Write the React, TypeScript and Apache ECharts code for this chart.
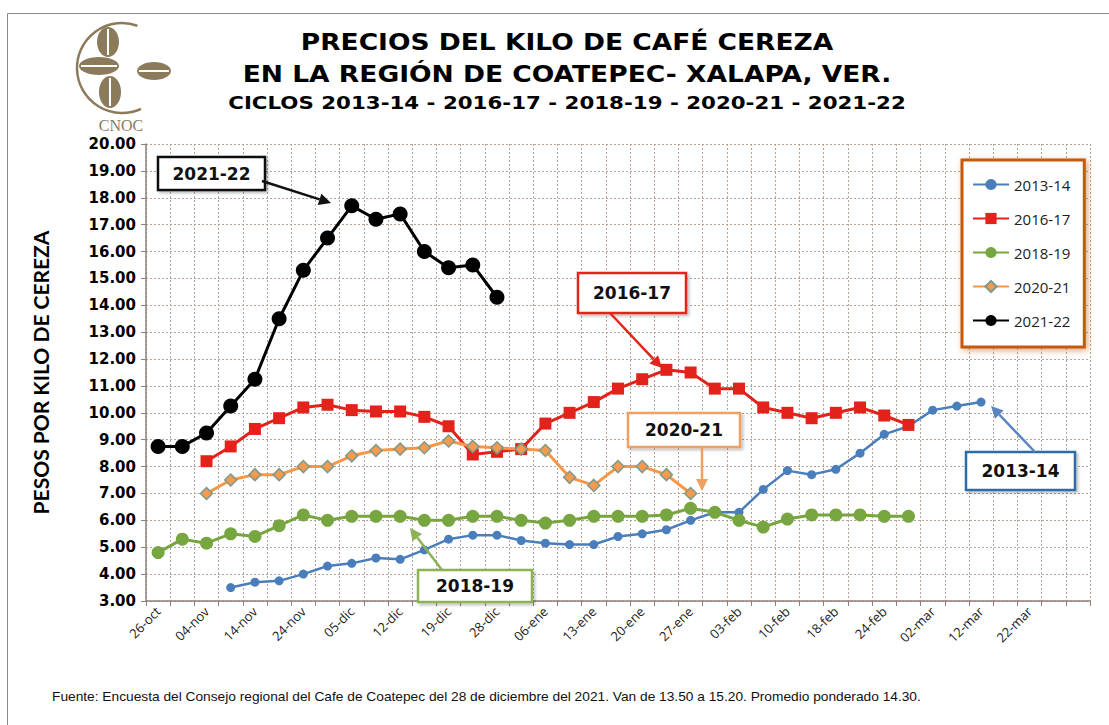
import React, { useEffect, useRef } from 'react';
import * as echarts from 'echarts';

// ---- data ----
const TICK_LABELS = ['26-oct', '04-nov', '14-nov', '24-nov', '05-dic', '12-dic', '19-dic', '28-dic', '06-ene', '13-ene', '20-ene', '27-ene', '03-feb', '10-feb', '18-feb', '24-feb', '02-mar', '12-mar', '22-mar'];
const SERIES_NAMES = ['2013-14', '2016-17', '2018-19', '2020-21', '2021-22'];

const V2013_14 = [null, null, null, 3.5, 3.7, 3.75, 4.0, 4.3, 4.4, 4.6, 4.55, 4.9, 5.3, 5.45, 5.45, 5.25, 5.15, 5.1, 5.1, 5.4, 5.5, 5.65, 6.0, 6.3, 6.3, 7.15, 7.85, 7.7, 7.9, 8.5, 9.2, 9.5, 10.1, 10.25, 10.4];
const V2016_17 = [null, null, 8.2, 8.75, 9.4, 9.8, 10.2, 10.3, 10.1, 10.05, 10.05, 9.85, 9.5, 8.45, 8.55, 8.65, 9.6, 10.0, 10.4, 10.9, 11.25, 11.6, 11.5, 10.9, 10.9, 10.2, 10.0, 9.8, 10.0, 10.2, 9.9, 9.55];
const V2018_19 = [4.8, 5.3, 5.15, 5.5, 5.4, 5.8, 6.2, 6.0, 6.15, 6.15, 6.15, 6.0, 6.0, 6.15, 6.15, 6.0, 5.9, 6.0, 6.15, 6.15, 6.15, 6.2, 6.45, 6.3, 6.0, 5.75, 6.05, 6.2, 6.2, 6.2, 6.15, 6.15];
const V2020_21 = [null, null, 7.0, 7.5, 7.7, 7.7, 8.0, 8.0, 8.4, 8.6, 8.65, 8.7, 8.95, 8.75, 8.7, 8.65, 8.6, 7.6, 7.3, 8.0, 8.0, 7.7, 7.0];
const V2021_22 = [8.75, 8.75, 9.25, 10.25, 11.25, 13.5, 15.3, 16.5, 17.7, 17.2, 17.4, 16.0, 15.4, 15.5, 14.3];

const Y_MIN = 3;
const Y_MAX = 20;
const Y_STEP = 1;

const TITLE_1 = 'PRECIOS DEL KILO DE CAFÉ CEREZA';
const TITLE_2 = 'EN LA REGIÓN DE COATEPEC- XALAPA, VER.';
const TITLE_3 = 'CICLOS 2013-14 - 2016-17 - 2018-19 - 2020-21 - 2021-22';
const Y_NAME = 'PESOS POR KILO DE CEREZA';
const FOOTER = 'Fuente: Encuesta del Consejo regional del Cafe de Coatepec del 28 de diciembre del 2021. Van de 13.50 a 15.20. Promedio ponderado 14.30.';

// every tick label is followed by one unlabeled category; one more closes the axis
const X_CATEGORIES = TICK_LABELS.flatMap((l) => [l, '']).concat(['']);

function measure(text: string, font: string) {
  const c = document.createElement('canvas').getContext('2d');
  if (!c) return 0;
  c.font = font;
  return c.measureText(text).width;
}

function fitText(text: string, cx: number, cy: number, size: number, family: string, weight: string, target: number, align = 'center', color = '#000') {
  const font = `${weight} ${size}px ${family}`;
  const w = measure(text, font);
  const sx = w > 0 ? target / w : 1;
  return {
    type: 'text',
    x: cx,
    y: cy,
    scaleX: sx,
    z: 20,
    style: {
      text,
      fill: color,
      fontSize: size,
      fontFamily: family,
      fontWeight: weight,
      align,
      verticalAlign: 'middle',
      textAlign: align,
      textVerticalAlign: 'middle',
    },
  };
}

function arrow(x1: number, y1: number, x2: number, y2: number, color: string, w = 2.5) {
  const ang = Math.atan2(y2 - y1, x2 - x1);
  const L = 12;
  const W = 6;
  const bx = x2 - L * Math.cos(ang);
  const by = y2 - L * Math.sin(ang);
  const px = -Math.sin(ang) * W;
  const py = Math.cos(ang) * W;
  return [
    { type: 'line', z: 20, shape: { x1, y1, x2: bx, y2: by }, style: { stroke: color, lineWidth: w } },
    { type: 'polygon', z: 20, shape: { points: [[x2, y2], [bx + px, by + py], [bx - px, by - py]] }, style: { fill: color } },
  ];
}

function callout(x: number, y: number, w: number, h: number, label: string, color: string) {
  return [
    {
      type: 'rect', z: 20, shape: { x, y, width: w, height: h },
      style: { fill: '#fff', stroke: color, lineWidth: 2.5, shadowBlur: 3, shadowOffsetX: 2, shadowOffsetY: 2, shadowColor: 'rgba(0,0,0,0.25)' },
    },
    {
      type: 'text', z: 21, x: x + w / 2, y: y + h / 2,
      style: {
        text: label, fill: '#111', fontSize: 17, fontWeight: 'bold', fontFamily: '"DejaVu Sans"',
        align: 'center', verticalAlign: 'middle', textAlign: 'center', textVerticalAlign: 'middle',
      },
    },
  ];
}

function logo() {
  const c = '#8b7b5b';
  const ox = 6;
  const els: any[] = [];
  els.push({ type: 'arc', z: 20, shape: { cx: 116 + ox, cy: 68, r: 45, startAngle: (65 * Math.PI) / 180, endAngle: (290 * Math.PI) / 180, clockwise: true }, style: { stroke: c, lineWidth: 2.5, fill: null } });
  const beans = [
    { cx: 102, cy: 42, rx: 11, ry: 15, v: true },
    { cx: 93, cy: 66, rx: 20, ry: 9, v: false },
    { cx: 148, cy: 71, rx: 17, ry: 9, v: false },
    { cx: 104, cy: 92, rx: 11, ry: 16, v: true },
  ];
  beans.forEach((b) => {
    const cx = b.cx + ox;
    els.push({ type: 'ellipse', z: 20, shape: { cx, cy: b.cy, rx: b.rx, ry: b.ry }, style: { fill: c } });
    els.push({
      type: 'line', z: 21,
      shape: b.v ? { x1: cx, y1: b.cy - b.ry + 2, x2: cx, y2: b.cy + b.ry - 2 } : { x1: cx - b.rx + 2, y1: b.cy, x2: cx + b.rx - 2, y2: b.cy },
      style: { stroke: '#fff', lineWidth: 2 },
    });
  });
  els.push({
    type: 'text', z: 20, x: 121, y: 125,
    style: { text: 'CNOC', fill: c, fontSize: 16, fontFamily: '"Liberation Serif"', align: 'center', verticalAlign: 'middle', textAlign: 'center', textVerticalAlign: 'middle' },
  });
  return els;
}

export default function App() {
  const ref = useRef<HTMLDivElement>(null);

  useEffect(() => {
    if (!ref.current) return;
    const chart = echarts.init(ref.current, null, { renderer: 'svg' });

    const gridColor = '#b3a295';
    const axisColor = '#8f8078';

    const graphic: any[] = [
      { type: 'rect', z: 1, shape: { x: 7.5, y: 13.5, width: 1300, height: 900 }, style: { fill: null, stroke: '#8a8a8a', lineWidth: 1 } },
      ...logo(),
      fitText(TITLE_1, 567, 42, 23, '"DejaVu Sans"', 'bold', 533),
      fitText(TITLE_2, 567, 74, 23, '"DejaVu Sans"', 'bold', 649),
      fitText(TITLE_3, 567, 103, 18, '"DejaVu Sans"', 'bold', 678),
      fitText(FOOTER, 52, 697, 13, '"Liberation Sans"', 'normal', 870, 'left', '#111'),
      ...callout(158, 157, 107, 33, '2021-22', '#111'),
      ...arrow(262, 181, 331, 203, '#111'),
      ...callout(578, 273, 108, 40, '2016-17', '#e0251b'),
      ...arrow(610, 313, 662, 368, '#e0251b'),
      ...callout(628, 413, 112, 34, '2020-21', '#f0a060'),
      ...arrow(702, 447, 702, 491, '#f0a060'),
      ...callout(966, 452, 109, 38, '2013-14', '#2e6ca6'),
      ...arrow(1035, 452, 991, 406, '#5b86c0'),
      ...callout(418, 570, 114, 32, '2018-19', '#8db255'),
      ...arrow(442, 570, 410, 528, '#8db255'),
    ];

    chart.setOption({
      animation: false,
      backgroundColor: '#fff',
      grid: { left: 146, right: 19, top: 144, bottom: 124, containLabel: false },
      legend: {
        orient: 'vertical',
        left: 962,
        top: 160,
        padding: [17, 14, 19, 10],
        itemGap: 19,
        itemWidth: 36,
        itemHeight: 14,
        backgroundColor: '#fff',
        borderColor: '#c55a11',
        borderWidth: 3,
        shadowBlur: 6,
        shadowColor: 'rgba(200,110,40,0.6)',
        shadowOffsetX: 2,
        shadowOffsetY: 2,
        textStyle: { fontFamily: '"Open Sans"', fontSize: 15, color: '#222' },
        data: SERIES_NAMES,
      },
      xAxis: {
        type: 'category',
        data: X_CATEGORIES,
        boundaryGap: true,
        axisLine: { lineStyle: { color: axisColor, width: 1.5 } },
        axisTick: { show: true, interval: 0, length: 5, lineStyle: { color: axisColor } },
        axisLabel: { interval: 0, rotate: 45, margin: 8, fontSize: 13, fontFamily: '"Open Sans"', color: '#222' },
        splitLine: { show: true, interval: 0, lineStyle: { color: gridColor, type: [2, 2], width: 1 } },
      },
      yAxis: {
        type: 'value',
        min: Y_MIN,
        max: Y_MAX,
        interval: Y_STEP,
        name: Y_NAME,
        nameLocation: 'middle',
        nameRotate: 90,
        nameGap: 95,
        nameTextStyle: { fontFamily: 'Lato', fontWeight: 'bold', fontSize: 21, color: '#000' },
        axisLine: { show: true, lineStyle: { color: axisColor, width: 1.5 } },
        axisTick: { show: true, length: 5, lineStyle: { color: axisColor } },
        axisLabel: { formatter: (v: number) => v.toFixed(2), fontFamily: '"DejaVu Sans"', fontWeight: 'bold', fontSize: 15, color: '#000', margin: 10 },
        splitLine: { show: true, lineStyle: { color: gridColor, type: [2, 2], width: 1 } },
      },
      series: [
        {
          name: SERIES_NAMES[0], type: 'line', data: V2013_14, symbol: 'circle', symbolSize: 9,
          lineStyle: { color: '#4a7ebb', width: 2.5 }, itemStyle: { color: '#4a7ebb' },
        },
        {
          name: SERIES_NAMES[1], type: 'line', data: V2016_17, symbol: 'rect', symbolSize: 12,
          lineStyle: { color: '#e3231b', width: 3 }, itemStyle: { color: '#e3231b' },
        },
        {
          name: SERIES_NAMES[2], type: 'line', data: V2018_19, symbol: 'circle', symbolSize: 13,
          lineStyle: { color: '#77a640', width: 3 }, itemStyle: { color: '#77a640' },
        },
        {
          name: SERIES_NAMES[3], type: 'line', data: V2020_21, symbol: 'diamond', symbolSize: 12,
          lineStyle: { color: '#f79646', width: 3 }, itemStyle: { color: '#f59a4f', borderColor: '#7c9a8c', borderWidth: 1.5 },
        },
        {
          name: SERIES_NAMES[4], type: 'line', data: V2021_22, symbol: 'circle', symbolSize: 15,
          lineStyle: { color: '#000', width: 3 }, itemStyle: { color: '#000' },
        },
      ],
      graphic,
    });

    return () => chart.dispose();
  }, []);

  return <div ref={ref} style={{ position: 'absolute', left: 0, top: 0, width: 1109, height: 725, background: '#fff' }} />;
}
